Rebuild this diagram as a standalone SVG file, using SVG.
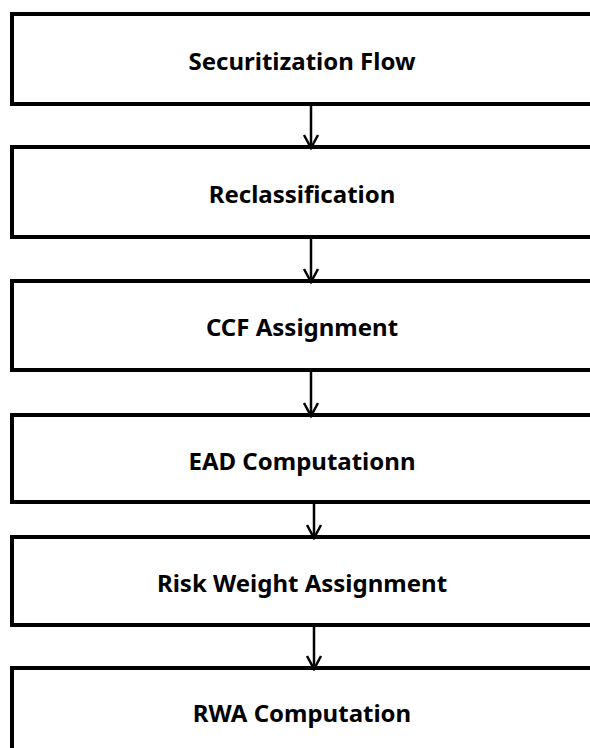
<svg xmlns="http://www.w3.org/2000/svg" width="590" height="748" viewBox="0 0 590 748">
<style>
.box{fill:#fff;stroke:#000;stroke-width:4}
.lbl{font-family:"Noto Sans","Open Sans","DejaVu Sans",sans-serif;font-weight:bold;font-size:24px;fill:#000;text-anchor:middle;dominant-baseline:central}
.conn{stroke:#000;stroke-width:2.5;fill:none}
</style>
<defs>
<marker id="arr" viewBox="0 0 20 20" refX="18" refY="10" markerWidth="20" markerHeight="20" markerUnits="userSpaceOnUse" orient="auto">
<path d="M5 3 L18 10 L5 17" fill="none" stroke="#000" stroke-width="2.5"/>
</marker>
</defs>
<rect width="590" height="748" fill="#fff"/>
<g id="n1"><rect class="box" x="12" y="14" width="600" height="90"/><text class="lbl" x="302" y="60">Securitization Flow</text></g>
<g id="n2"><rect class="box" x="12" y="147" width="600" height="90"/><text class="lbl" x="302" y="193">Reclassification</text></g>
<g id="n3"><rect class="box" x="12" y="281" width="600" height="89"/><text class="lbl" x="302" y="326">CCF Assignment</text></g>
<g id="n4"><rect class="box" x="12" y="415" width="600" height="87"/><text class="lbl" x="302" y="460">EAD Computationn</text></g>
<g id="n5"><rect class="box" x="12" y="537" width="600" height="88"/><text class="lbl" x="302" y="582">Risk Weight Assignment</text></g>
<g id="n6"><rect class="box" x="12" y="668" width="600" height="100"/><text class="lbl" x="302" y="712">RWA Computation</text></g>
<g id="connectors">
<line class="conn" x1="311" y1="106" x2="311" y2="148" marker-end="url(#arr)"/>
<line class="conn" x1="311" y1="239" x2="311" y2="282" marker-end="url(#arr)"/>
<line class="conn" x1="311" y1="372" x2="311" y2="416" marker-end="url(#arr)"/>
<line class="conn" x1="314" y1="504" x2="314" y2="538" marker-end="url(#arr)"/>
<line class="conn" x1="314" y1="627" x2="314" y2="669" marker-end="url(#arr)"/>
</g>
</svg>
